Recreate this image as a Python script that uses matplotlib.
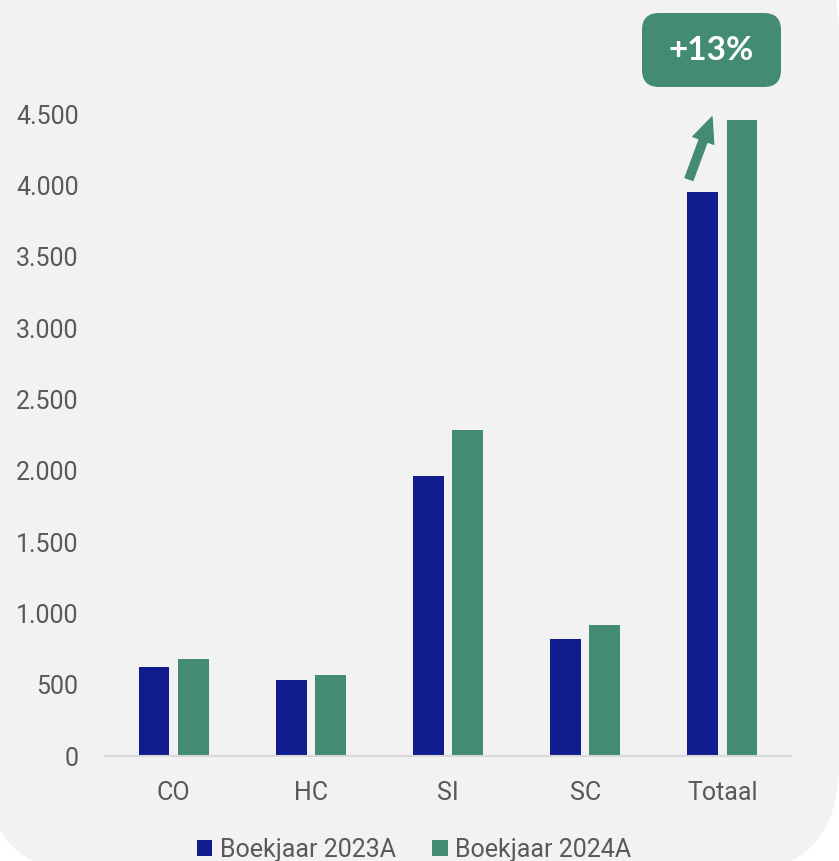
import matplotlib
matplotlib.use("Agg")
import matplotlib.pyplot as plt
from matplotlib.patches import FancyBboxPatch, Patch
import numpy as np

categories = ["CO", "HC", "SI", "SC", "Totaal"]
values_2023 = [624, 533, 1962, 820, 3952]
values_2024 = [680, 568, 2285, 918, 4457]
series_names = ["Boekjaar 2023A", "Boekjaar 2024A"]
y_ticks = [0, 500, 1000, 1500, 2000, 2500, 3000, 3500, 4000, 4500]
growth_label = "+13%"

BLUE = "#111d8e"
GREEN = "#438c73"
PANEL = "#f2f2f2"
TEXT = "#595959"

plt.rcParams["font.family"] = ["Roboto", "DejaVu Sans"]

W, H = 839, 861
fig = plt.figure(figsize=(W / 100, H / 100), dpi=100)
fig.patch.set_facecolor("white")

# light grey panel with rounded bottom corners
panel = FancyBboxPatch((-0.15, -0.13), 8.54, 9.5,
                       boxstyle="round,pad=0,rounding_size=1.1",
                       transform=fig.dpi_scale_trans,
                       facecolor=PANEL, edgecolor="none", zorder=-10)
fig.patches.append(panel)

ax = fig.add_axes([105 / W, (H - 756) / H, (791 - 105) / W, (756 - 114) / H])
ax.set_facecolor("none")

x = np.arange(len(categories))
bw = 0.225
gap = 0.06
ax.bar(x - (bw + gap) / 2, values_2023, width=bw, color=BLUE, zorder=2)
ax.bar(x + (bw + gap) / 2, values_2024, width=bw, color=GREEN, zorder=2)

ax.set_xlim(-0.5, len(categories) - 0.5)
ax.set_ylim(0, 4500)
ax.set_yticks(y_ticks)
ax.set_yticklabels([f"{v:,.0f}".replace(",", ".") for v in y_ticks])
ax.set_xticks(x)
ax.set_xticklabels(categories)
ax.tick_params(axis="both", length=0, labelsize=18, labelcolor=TEXT)
ax.tick_params(axis="y", pad=19)
ax.tick_params(axis="x", pad=18)

for s in ["top", "right", "left"]:
    ax.spines[s].set_visible(False)
ax.spines["bottom"].set_color("#d9d9d9")
ax.spines["bottom"].set_linewidth(1.5)

# legend
handles = [Patch(facecolor=BLUE, edgecolor="none"),
           Patch(facecolor=GREEN, edgecolor="none")]
fig.legend(handles, series_names, loc="center", ncol=2,
           bbox_to_anchor=(414 / W, (H - 850) / H), frameon=False,
           fontsize=18, labelcolor=TEXT, handlelength=0.62, handleheight=0.62,
           handletextpad=0.3, columnspacing=1.45, borderpad=0)

# growth badge + arrow
badge = FancyBboxPatch((6.42, (H - 87) / 100), 1.39, 0.74,
                       boxstyle="round,pad=0,rounding_size=0.17",
                       transform=fig.dpi_scale_trans,
                       facecolor=GREEN, edgecolor="none", zorder=5)
fig.patches.append(badge)
fig.text(711 / W, (H - 51) / H, growth_label, ha="center", va="center",
         color="white", fontsize=24, fontweight="bold",
         family=["Lato", "DejaVu Sans"], zorder=6)

ax.annotate("", xy=(712, H - 117), xycoords="figure pixels",
            xytext=(689, H - 179), textcoords="figure pixels",
            arrowprops=dict(arrowstyle="simple,head_length=18,head_width=16,tail_width=6",
                            mutation_scale=1, color=GREEN, shrinkA=0, shrinkB=0),
            annotation_clip=False)

fig.savefig("out.png", dpi=100, facecolor=fig.get_facecolor())
